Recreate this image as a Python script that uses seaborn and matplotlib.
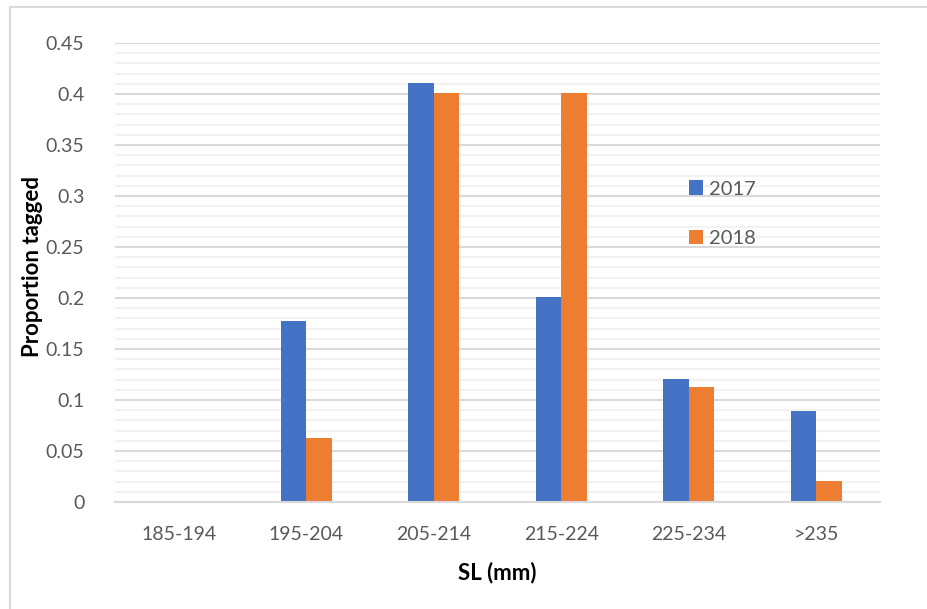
import matplotlib
matplotlib.use("Agg")
import matplotlib.pyplot as plt
from matplotlib.patches import Rectangle
from matplotlib.ticker import MultipleLocator
import seaborn as sns
import pandas as pd

# Size classes (standard length, mm) and proportion tagged per year
size_classes = ["185-194", "195-204", "205-214", "215-224", "225-234", ">235"]
tagged_2017 = [0.0, 0.177, 0.411, 0.201, 0.121, 0.089]
tagged_2018 = [0.0, 0.063, 0.401, 0.401, 0.113, 0.021]
years = ["2017", "2018"]
year_colors = ["#4472C4", "#ED7D31"]

df = pd.DataFrame({
    "SL": size_classes * 2,
    "Year": [years[0]] * len(size_classes) + [years[1]] * len(size_classes),
    "Proportion": tagged_2017 + tagged_2018,
})

sns.set_style("white")
plt.rcParams["font.family"] = ["Lato", "DejaVu Sans"]

fig = plt.figure(figsize=(9.28, 6.09), dpi=100)
ax = fig.add_axes([0.1239, 0.1757, 0.8244, 0.7537])

# Chart frame (light grey outline)
fig.patches.append(Rectangle((10 / 928, -0.05), 1.2, 1 - 7 / 609 + 0.05,
                             transform=fig.transFigure, fill=False,
                             edgecolor="#d9d9d9", linewidth=1.5, zorder=0))

sns.barplot(data=df, x="SL", y="Proportion", hue="Year", order=size_classes,
            hue_order=years, palette=year_colors, width=0.4, linewidth=0,
            saturation=1, ax=ax, zorder=3)

ax.set_ylim(0, 0.45)
ax.set_xlim(-0.5, len(size_classes) - 0.5)
ax.yaxis.set_major_locator(MultipleLocator(0.05))
ax.yaxis.set_minor_locator(MultipleLocator(0.01))
ax.grid(axis="y", which="minor", color="#f2f2f2", linewidth=1.5, zorder=0)
ax.grid(axis="y", which="major", color="#d9d9d9", linewidth=1.5, zorder=1)
ax.set_axisbelow(True)
ax.set_yticks([i * 0.05 for i in range(10)])
ax.set_yticklabels(["0", "0.05", "0.1", "0.15", "0.2", "0.25", "0.3", "0.35", "0.4", "0.45"])

for s in ["top", "right", "left"]:
    ax.spines[s].set_visible(False)
ax.spines["bottom"].set_color("#d9d9d9")
ax.spines["bottom"].set_linewidth(1.5)
ax.spines["bottom"].set_zorder(4)

ax.tick_params(axis="both", which="both", length=0, colors="#595959", labelsize=14)
ax.tick_params(axis="y", pad=22)
ax.tick_params(axis="x", pad=17)

ax.set_xlabel("SL (mm)", fontsize=16, fontweight="bold", color="black", labelpad=14)
ax.set_ylabel("Proportion tagged", fontsize=16, fontweight="bold", color="black")
ax.yaxis.set_label_coords(-0.094, 0.514)

leg = ax.legend(loc="upper left", bbox_to_anchor=(0.740, 0.718), frameon=False,
                fontsize=14.5, handlelength=0.7, handleheight=0.7, handletextpad=0.3,
                labelspacing=1.6, borderaxespad=0)
for t in leg.get_texts():
    t.set_color("#595959")

fig.savefig("out.png", dpi=100)
